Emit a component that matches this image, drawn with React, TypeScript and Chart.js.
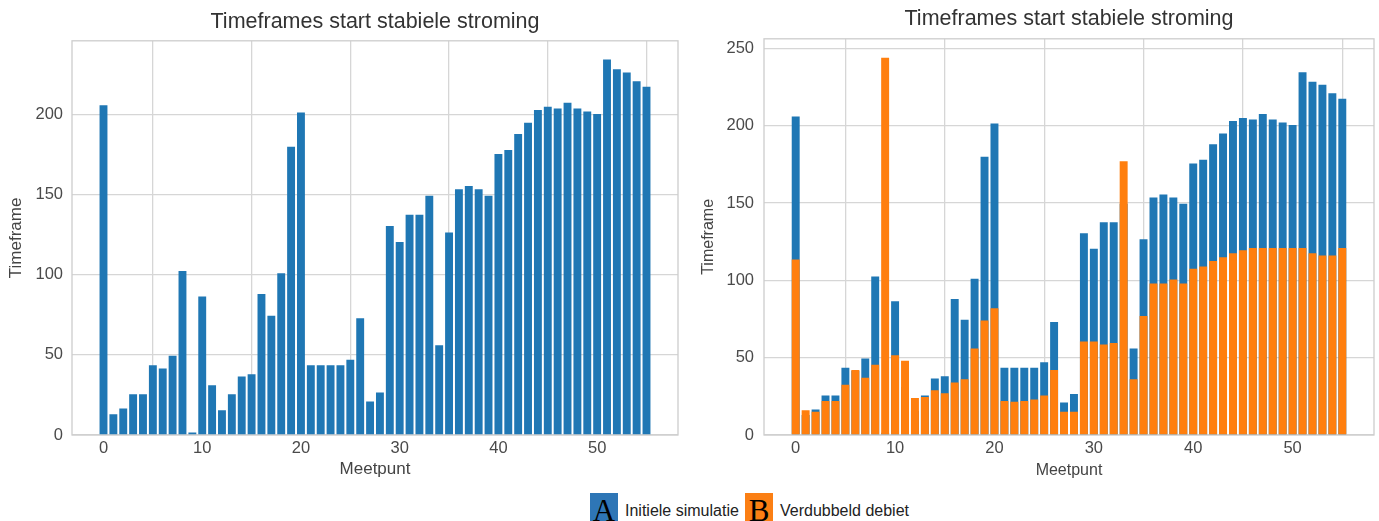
import React, { useEffect, useRef } from "react";
import { Chart, registerables } from "chart.js";

Chart.register(...registerables);

// ---------- data ----------
const meetpunt = [
  0, 1, 2, 3, 4, 5, 6, 7, 8, 9, 10, 11, 12, 13, 14, 15, 16, 17, 18, 19,
  20, 21, 22, 23, 24, 25, 26, 27, 28, 29, 30, 31, 32, 33, 34, 35, 36, 37, 38, 39,
  40, 41, 42, 43, 44, 45, 46, 47, 48, 49, 50, 51, 52, 53, 54, 55,
];

const initieleSimulatie = [
  206, 13, 16.5, 25.5, 25.5, 43.5, 41.5, 49.5, 102.5, 1.5,
  86.5, 31, 15.5, 25.5, 36.5, 38, 88, 74.5, 101, 180,
  201.5, 43.5, 43.5, 43.5, 43.5, 47, 73, 21, 26.5, 130.5,
  120.5, 137.5, 137.5, 149.5, 56, 126.5, 153.5, 155.5, 153.5, 149.5,
  175.5, 178, 188, 195, 203, 205, 204, 207.5, 204, 202,
  200.5, 234.5, 228.5, 226.5, 221, 217.5,
];

const verdubbeldDebiet = [
  113.5, 16, 15, 22, 22, 32.5, 42, 37, 45.5, 244,
  51.5, 48, 24, 24.5, 29, 27, 34, 36, 56, 74,
  82, 22, 21.5, 22, 23, 25.5, 42, 15, 15, 60.5,
  60.5, 58.5, 59.5, 177, 36, 77, 98, 98, 100.5, 98,
  107.5, 109, 112.5, 115, 117.5, 119.5, 121, 121, 121, 121,
  121, 121, 117.5, 116, 116, 121,
];

const xTicksStep = 10;
const yTicksStep = 50;

const TITLE = "Timeframes start stabiele stroming";
const X_LABEL = "Meetpunt";
const Y_LABEL = "Timeframe";
const LEGEND_A = "Initiele simulatie";
const LEGEND_B = "Verdubbeld debiet";

const BLUE = "#1f77b4";
const ORANGE = "#ff7f0e";
const GRID = "#d6d6d6";
const FONT = "'Liberation Sans', Arial, Helvetica, sans-serif";

// ---------- helpers ----------
const framePlugin = {
  id: "frame",
  beforeDatasetsDraw(chart: any) {
    const { ctx, chartArea: a } = chart;
    ctx.save();
    ctx.strokeStyle = "#cdcdcd";
    ctx.lineWidth = 1.3;
    ctx.strokeRect(a.left, a.top, a.right - a.left, a.bottom - a.top);
    ctx.restore();
  },
};

function toPoints(values: number[]) {
  return values.map((v, i) => ({ x: meetpunt[i], y: v }));
}

function xRange() {
  const lo = meetpunt[0] - 0.4;
  const hi = meetpunt[meetpunt.length - 1] + 0.4;
  const m = (hi - lo) * 0.05;
  return { min: lo - m, max: hi + m };
}

function makeConfig(p: {
  datasets: any[];
  yMax: number;
  yWidth: number;
  padRight: number;
  titlePadTop: number;
  titlePadBottom: number;
  yTitlePad: number;
  yTickPad: number;
  labelSize: number;
}) {
  const { min, max } = xRange();
  const tickFont = { family: FONT, size: 16.5 };
  const labelFont = { family: FONT, size: p.labelSize };
  return {
    type: "bar",
    data: { datasets: p.datasets },
    options: {
      responsive: false,
      animation: false,
      devicePixelRatio: 1,
      layout: { padding: { left: 0, right: p.padRight, top: 0, bottom: 0 } },
      plugins: {
        legend: { display: false },
        tooltip: { enabled: false },
        title: {
          display: true,
          text: TITLE,
          fullSize: false,
          color: "#333333",
          font: { family: FONT, size: 21.5, weight: "normal" },
          padding: { top: p.titlePadTop, bottom: p.titlePadBottom },
        },
      },
      scales: {
        x: {
          type: "linear",
          min,
          max,
          offset: false,
          grid: { color: GRID, lineWidth: 1.3, drawTicks: false },
          border: { display: false },
          ticks: {
            stepSize: xTicksStep,
            includeBounds: false,
            color: "#4a4a4a",
            font: tickFont,
            padding: 4,
            maxRotation: 0,
          },
          title: {
            display: true,
            text: X_LABEL,
            color: "#444444",
            font: labelFont,
            padding: { top: 0, bottom: 10 },
          },
          afterFit: (s: any) => {
            s.height = 55;
          },
        },
        y: {
          min: 0,
          max: p.yMax,
          grid: { color: GRID, lineWidth: 1.3, drawTicks: false },
          border: { display: false },
          ticks: {
            stepSize: yTicksStep,
            includeBounds: false,
            color: "#4a4a4a",
            font: tickFont,
            padding: p.yTickPad,
          },
          title: {
            display: true,
            text: Y_LABEL,
            color: "#444444",
            font: labelFont,
            padding: { top: p.yTitlePad, bottom: 0 },
          },
          afterFit: (s: any) => {
            s.width = p.yWidth;
          },
        },
      },
    },
    plugins: [framePlugin],
  };
}

const barCommon = {
  barPercentage: 0.8,
  categoryPercentage: 1,
  grouped: false,
  borderWidth: 0,
};

function ChartCanvas({ config, width, height, left }: any) {
  const ref = useRef<HTMLCanvasElement | null>(null);
  useEffect(() => {
    if (!ref.current) return;
    const chart = new Chart(ref.current, config);
    return () => chart.destroy();
  }, []);
  return (
    <canvas
      ref={ref}
      width={width}
      height={height}
      style={{ position: "absolute", left, top: 0, width, height }}
    />
  );
}

export default function App() {
  const leftMax = Math.max(...initieleSimulatie) * 1.05;
  const rightMax = Math.max(...initieleSimulatie, ...verdubbeldDebiet) * 1.05;

  const leftConfig = makeConfig({
    datasets: [
      {
        label: LEGEND_A,
        data: toPoints(initieleSimulatie),
        backgroundColor: BLUE,
        ...barCommon,
      },
    ],
    yMax: leftMax,
    yWidth: 72,
    padRight: 12,
    titlePadTop: 9,
    titlePadBottom: 6,
    yTitlePad: 6,
    yTickPad: 9,
    labelSize: 17,
  });

  const rightConfig = makeConfig({
    datasets: [
      {
        label: LEGEND_B,
        data: toPoints(verdubbeldDebiet),
        backgroundColor: ORANGE,
        order: 0,
        ...barCommon,
      },
      {
        label: LEGEND_A,
        data: toPoints(initieleSimulatie),
        backgroundColor: BLUE,
        order: 1,
        ...barCommon,
      },
    ],
    yMax: rightMax,
    yWidth: 74,
    padRight: 5,
    titlePadTop: 6,
    titlePadBottom: 7,
    yTitlePad: 9,
    yTickPad: 10,
    labelSize: 16,
  });

  const boxStyle = (bg: string, left: number): React.CSSProperties => ({
    position: "absolute",
    left,
    top: 493,
    width: 28,
    height: 32,
    background: bg,
  });
  const letterStyle = (left: number): React.CSSProperties => ({
    position: "absolute",
    left,
    top: 496,
    width: 28,
    textAlign: "center",
    fontFamily: "'Liberation Serif', 'Times New Roman', serif",
    fontSize: 31,
    lineHeight: "30px",
    color: "#000",
  });
  const textStyle = (left: number): React.CSSProperties => ({
    position: "absolute",
    left,
    top: 501,
    fontFamily: FONT,
    fontSize: 16,
    lineHeight: "19px",
    color: "#222",
    whiteSpace: "nowrap",
  });

  return (
    <div
      style={{
        position: "absolute",
        left: 0,
        top: 0,
        width: 1379,
        height: 521,
        background: "#fff",
        overflow: "hidden",
      }}
    >
      <ChartCanvas config={leftConfig} width={690} height={490} left={0} />
      <ChartCanvas config={rightConfig} width={689} height={490} left={690} />
      <div style={boxStyle("#2e76b6", 590)} />
      <div style={letterStyle(590)}>A</div>
      <div style={textStyle(625)}>{LEGEND_A}</div>
      <div style={boxStyle("#fb7f14", 745)} />
      <div style={letterStyle(745)}>B</div>
      <div style={textStyle(780)}>{LEGEND_B}</div>
    </div>
  );
}
